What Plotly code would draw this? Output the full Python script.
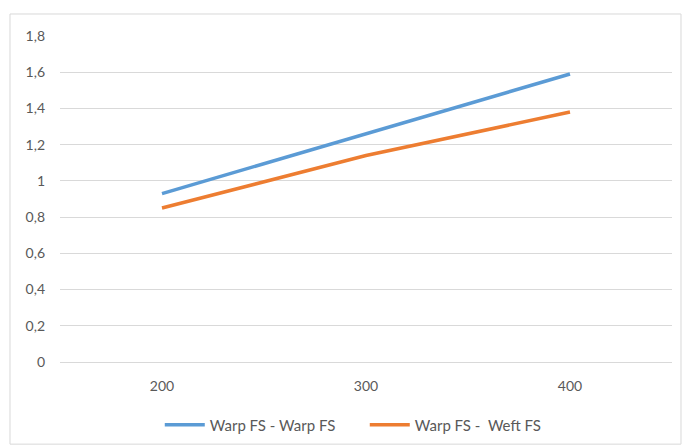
import plotly.graph_objects as go

# Categories and series values
categories = ["200", "300", "400"]
warp_warp = [0.93, 1.26, 1.59]
warp_weft = [0.85, 1.14, 1.38]

# Y-axis ticks (comma decimal labels)
y_ticks = [0, 0.2, 0.4, 0.6, 0.8, 1.0, 1.2, 1.4, 1.6, 1.8]
y_tick_labels = ["0", "0,2", "0,4", "0,6", "0,8", "1", "1,2", "1,4", "1,6", "1,8"]

font_family = "Lato, 'Open Sans', sans-serif"
text_color = "#595959"

fig = go.Figure()
fig.add_trace(go.Scatter(
    x=categories, y=warp_warp, mode="lines",
    name="Warp FS - Warp FS",
    line=dict(color="#5B9BD5", width=3.5),
))
fig.add_trace(go.Scatter(
    x=categories, y=warp_weft, mode="lines",
    name="Warp FS -  Weft FS",
    line=dict(color="#ED7D31", width=3.5),
))

fig.update_layout(
    width=682, height=446,
    margin=dict(l=60, r=10, t=36, b=84, autoexpand=False),
    paper_bgcolor="white", plot_bgcolor="white",
    font=dict(family=font_family, size=14, color=text_color),
    showlegend=True,
    legend=dict(
        orientation="h", x=0.498, xanchor="center", y=-0.193, yanchor="middle",
        font=dict(size=15, color=text_color), itemwidth=40,
        entrywidth=150, entrywidthmode="pixels",
    ),
    xaxis=dict(
        type="category", range=[-0.5, 2.5], showgrid=False, showline=True,
        linecolor="#D9D9D9", linewidth=1, ticks="", ticklabelstandoff=11,
        zeroline=False,
    ),
    yaxis=dict(
        range=[0, 1.8], tickvals=y_ticks, ticktext=y_tick_labels,
        showgrid=True, gridcolor="#D9D9D9", gridwidth=1,
        zeroline=False, showline=False, ticks="", ticklabelstandoff=14,
    ),
    shapes=[dict(
        type="rect", xref="paper", yref="paper",
        x0=-0.0817, x1=1.0147, y0=-0.252, y1=1.0675,
        line=dict(color="#D9D9D9", width=1), fillcolor="rgba(0,0,0,0)",
        layer="below",
    )],
)

fig.write_html("out.html")
